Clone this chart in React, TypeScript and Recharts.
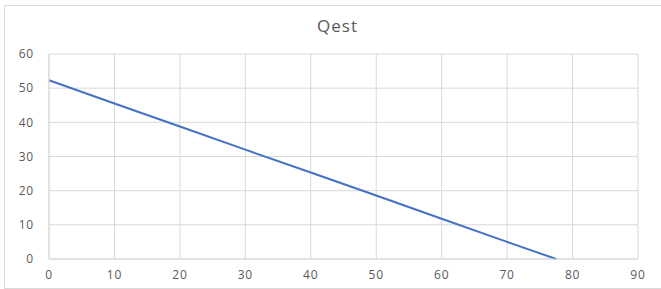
import { LineChart, Line, XAxis, YAxis, CartesianGrid } from "recharts";

const priceX = [0, 10, 20, 30, 40, 50, 60, 70, 77.5];
const qest = [52.3, 45.5, 38.8, 32.0, 25.3, 18.6, 11.8, 5.0, 0];
const xTicks = [0, 10, 20, 30, 40, 50, 60, 70, 80, 90];
const yTicks = [0, 10, 20, 30, 40, 50, 60];

const data = priceX.map((x, i) => ({ x, qest: qest[i] }));

const tickStyle = { fontSize: 12, fill: "#595959", fontFamily: "Open Sans", letterSpacing: 0.8 };

export default function App() {
  return (
    <div style={{ position: "fixed", top: 0, left: 0, width: 661, height: 289, background: "#fff" }}>
      <div
        style={{
          position: "absolute",
          left: 4,
          top: 5,
          width: 660,
          height: 282,
          borderTop: "1px solid #d9d9d9",
          borderLeft: "1px solid #d9d9d9",
          borderBottom: "1px solid #d9d9d9",
        }}
      />
      <div
        style={{
          position: "absolute",
          left: 0,
          width: 661,
          top: 14,
          textAlign: "center",
          fontFamily: "Open Sans",
          fontSize: 17,
          letterSpacing: 1,
          color: "#595959",
          paddingLeft: 14,
          boxSizing: "border-box",
        }}
      >
        Qest
      </div>
      <LineChart
        width={661}
        height={289}
        data={data}
        margin={{ top: 54, right: 23, left: 0, bottom: 0 }}
        style={{ position: "absolute", top: 0, left: 0 }}
      >
        <CartesianGrid stroke="#d9d9d9" strokeWidth={1} />
        <XAxis
          type="number"
          dataKey="x"
          domain={[0, 90]}
          ticks={xTicks}
          height={30}
          tickSize={0}
          tickMargin={11}
          axisLine={{ stroke: "#d9d9d9" }}
          tickLine={false}
          tick={tickStyle}
        />
        <YAxis
          type="number"
          domain={[0, 60]}
          ticks={yTicks}
          width={49}
          tickSize={0}
          tickMargin={15}
          axisLine={{ stroke: "#d9d9d9" }}
          tickLine={false}
          tick={tickStyle}
        />
        <Line
          type="linear"
          dataKey="qest"
          stroke="#4472c4"
          strokeWidth={2}
          dot={false}
          isAnimationActive={false}
        />
      </LineChart>
    </div>
  );
}
